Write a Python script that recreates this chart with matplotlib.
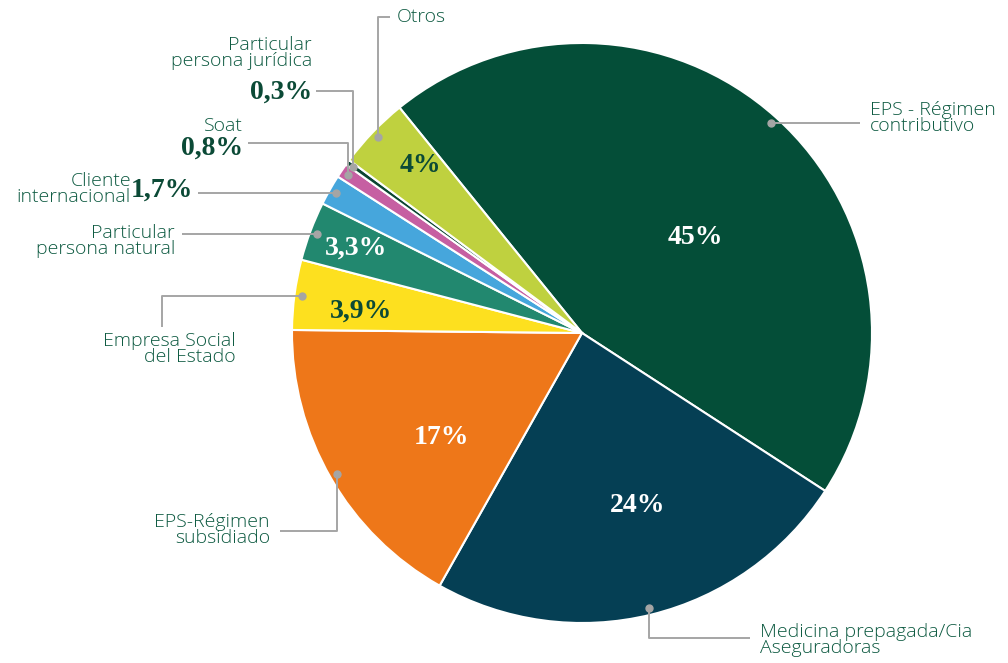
import matplotlib.pyplot as plt
import numpy as np

# share of billing by payer type (%)
categorias = ["EPS - Régimen\ncontributivo", "Medicina prepagada/Cia\nAseguradoras",
              "EPS-Régimen\nsubsidiado", "Empresa Social\ndel Estado",
              "Particular\npersona natural", "Cliente\ninternacional", "Soat",
              "Particular\npersona jurídica", "Otros"]
valores = [45, 24, 17, 3.9, 3.3, 1.7, 0.8, 0.3, 4]
etiquetas = ["45%", "24%", "17%", "3,9%", "3,3%", "1,7%", "0,8%", "0,3%", "4%"]
colores = ["#044e38", "#053f54", "#ee7719", "#fde01f", "#22886f",
           "#46a6dc", "#c65fa2", "#0b4631", "#bfd13f"]

W, H = 1008, 663
CX, CY, R = 582, 330, 290
VERDE = "#0d5a41"
GRIS = "#a5a5a5"

def py(y):
    return H - y

fig = plt.figure(figsize=(W / 100, H / 100), dpi=100)
ax = fig.add_axes([0, 0, 1, 1])

wedges, _ = ax.pie(valores, colors=colores, startangle=129, counterclock=False,
                   center=(CX, CY), radius=R, frame=True,
                   wedgeprops=dict(edgecolor="white", linewidth=1.5))
ax.set_xlim(0, W)
ax.set_ylim(0, H)
ax.set_aspect("equal")
ax.axis("off")

serif = dict(family="Liberation Serif", weight="bold")
sans = dict(family=["Open Sans", "DejaVu Sans"], weight="light")

# percentages drawn inside the wedges: (index, x, y, colour)
dentro = [(0, 695, 237, "white"), (1, 638, 505, "white"), (2, 441, 437, "white"),
          (3, 361, 311, "#0b4a36"), (4, 356, 248, "white"), (8, 420, 166, "#0b4a36")]
for i, x, y, c in dentro:
    ax.text(x, py(y), etiquetas[i], color=c, fontsize=20, ha="center", va="center", **serif)

# leader routes: (index, route, bend points, text x, text y, ha, pct position)
guias = [
    (0, "h", [860], 870, 118, "left", None),
    (1, "v", [638, 750], 760, 640, "left", None),
    (2, "v", [531, 280], 270, 530, "right", None),
    (3, "hv", [162, 327], 236, 349, "right", None),
    (4, "h", [182], 175, 241, "right", None),
    (5, "h", [198], 131, 189, "right", (193, 190)),
    (6, "v", [143, 248], 243, 126, "right", (243, 148)),
    (7, "v", [91, 316], 312, 53, "right", (312, 92)),
    (8, "v", [17, 390], 397, 17, "left", None),
]

for i, ruta, pts, tx, ty, ha, pct in guias:
    w = wedges[i]
    ang = np.deg2rad((w.theta1 + w.theta2) / 2)
    rr = R * 0.975
    dx, dy = CX + rr * np.cos(ang), CY + rr * np.sin(ang)
    if ruta == "h":
        xs, ys = [dx, pts[0]], [dy, dy]
    elif ruta == "v":
        xs, ys = [dx, dx, pts[1]], [dy, py(pts[0]), py(pts[0])]
    else:
        xs, ys = [dx, pts[0], pts[0]], [dy, dy, py(pts[1])]
    ax.plot(xs, ys, color=GRIS, lw=1.4, solid_capstyle="butt", zorder=3)
    ax.plot(dx, dy, "o", color=GRIS, ms=5, zorder=4)
    ax.text(tx, py(ty), categorias[i], color=VERDE, fontsize=14, ha=ha, va="center",
            linespacing=0.85, **sans)
    if pct is not None:
        ax.text(pct[0], py(pct[1]), etiquetas[i], color="#0b4a36", fontsize=20,
                ha="right", va="center", **serif)

fig.savefig("out.png", dpi=100, facecolor="white")
